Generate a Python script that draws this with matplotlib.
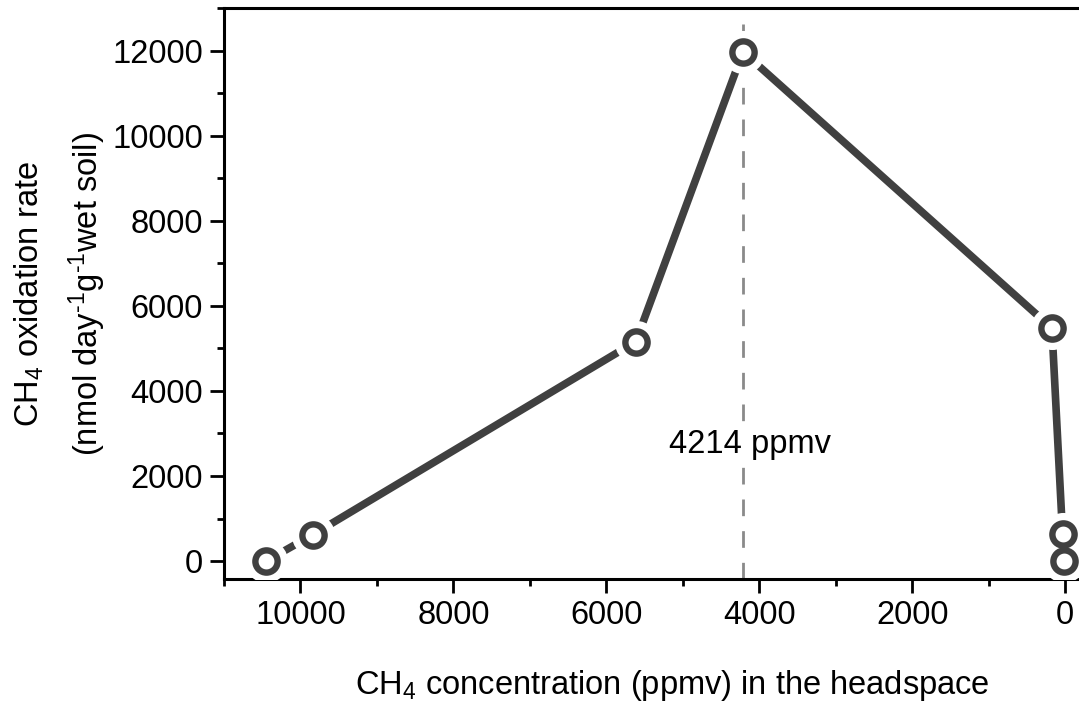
import matplotlib
matplotlib.use("Agg")
import matplotlib.pyplot as plt
import matplotlib.ticker as ticker

plt.rcParams["font.family"] = ["Liberation Sans", "DejaVu Sans"]
plt.rcParams["mathtext.fontset"] = "custom"
plt.rcParams["mathtext.rm"] = "Liberation Sans"
plt.rcParams["mathtext.it"] = "Liberation Sans:italic"

# data
conc = [10450, 9840, 5615, 4214, 174, 35, 13]
rate = [0, 620, 5160, 11970, 5475, 635, 5]
peak_conc = 4214

LINE_COLOR = "#404040"
FS = 23.5

fig = plt.figure(figsize=(10.79, 7.02), dpi=100)
ax = fig.add_axes([0.2076, 0.1752, 0.7924, 0.8134])

# reference line at the peak
ax.axvline(peak_conc, color="#8a8a8a", linestyle=(0, (6, 5.4)), linewidth=2,
           dash_capstyle="butt", zorder=1)
ax.text(4120, 2730, f"{peak_conc} ppmv", fontsize=FS, ha="center", va="center",
        bbox=dict(facecolor="white", edgecolor="none", pad=2), zorder=2)

# line with gaps around markers (Origin style)
ax.plot(conc, rate, color=LINE_COLOR, linewidth=5.5, solid_capstyle="round", zorder=3)
ax.plot(conc, rate, linestyle="none", marker="o", markersize=31,
        markerfacecolor="white", markeredgecolor="none", zorder=4)
ax.plot(conc, rate, linestyle="none", marker="o", markersize=16,
        markerfacecolor="white", markeredgecolor=LINE_COLOR, markeredgewidth=4.6,
        zorder=5, clip_on=False)

ax.set_xlim(11000, -180)
ax.set_ylim(-420, 13000)
ax.xaxis.set_major_locator(ticker.MultipleLocator(2000))
ax.xaxis.set_minor_locator(ticker.MultipleLocator(1000))
ax.yaxis.set_major_locator(ticker.MultipleLocator(2000))
ax.yaxis.set_minor_locator(ticker.MultipleLocator(1000))
ax.tick_params(which="major", direction="out", length=10, width=2, labelsize=FS, pad=5)
ax.tick_params(which="minor", direction="out", length=5, width=2)
ax.tick_params(top=False, right=False)

for side in ("left", "bottom", "top"):
    ax.spines[side].set_linewidth(2.2)
ax.spines["right"].set_visible(False)

ax.set_xlabel("CH$_4$ concentration (ppmv) in the headspace", fontsize=FS, labelpad=27)
ax.xaxis.label.set_x(0.524)
ax.set_ylabel("CH$_4$ oxidation rate\n(nmol day$^{\u20101}$g$^{\u20101}$wet soil)", fontsize=FS,
              labelpad=3, linespacing=1.65)

fig.savefig("out.png", dpi=100)
plt.close(fig)
